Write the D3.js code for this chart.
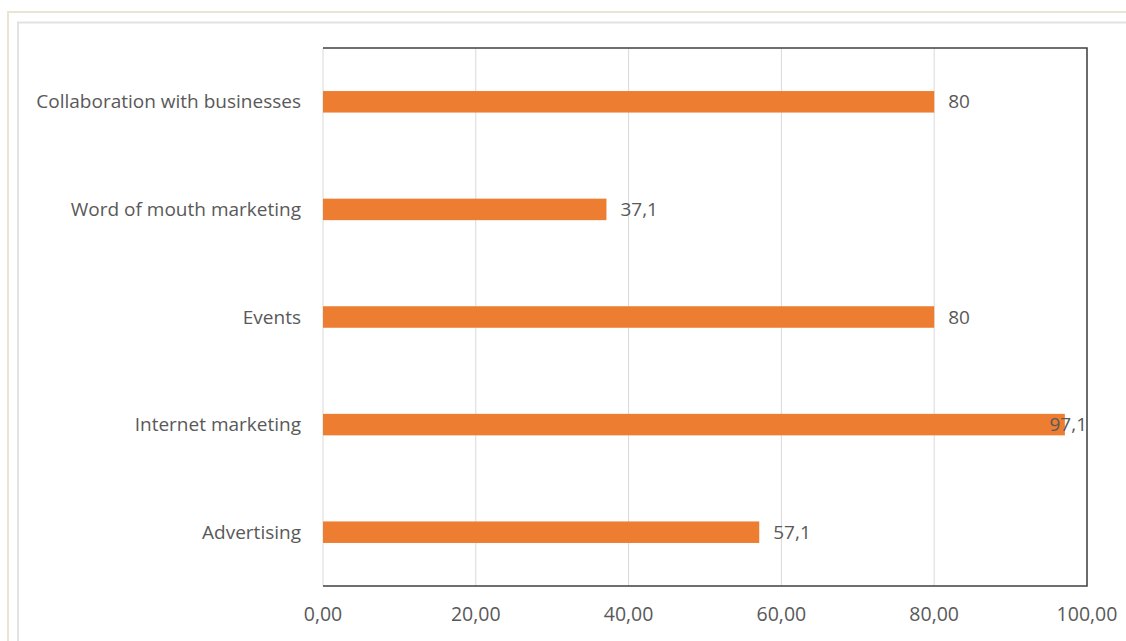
<!DOCTYPE html>
<html>
<head>
<meta charset="utf-8">
<script src="https://cdn.jsdelivr.net/npm/d3@7"></script>
<style>
  body { margin: 0; background: #fff; }
  svg text { font-family: "Open Sans", sans-serif; fill: #595959; }
</style>
</head>
<body>
<div id="graph"></div>
<script>
var categories = ['Collaboration with businesses', 'Word of mouth marketing', 'Events', 'Internet marketing', 'Advertising'];
var values = [80, 37.1, 80, 97.1, 57.1];
var tickValues = [0, 20, 40, 60, 80, 100];

var width = 1126, height = 641;
var plot = {left: 323, right: 1087, top: 48, bottom: 586};

var svg = d3.select('#graph')
            .append('svg')
            .attr('width', width)
            .attr('height', height);

// frames round the chart area
svg.append('path')
   .attr('d', 'M8,641 V12 H1126')
   .attr('fill', 'none')
   .attr('stroke', '#e9e5d3')
   .attr('stroke-width', 2);
svg.append('path')
   .attr('d', 'M18,641 V22.5 H1126')
   .attr('fill', 'none')
   .attr('stroke', '#e2e2e2')
   .attr('stroke-width', 2);

var x = d3.scaleLinear()
          .domain([0, 100])
          .range([plot.left, plot.right]);

var y = d3.scaleBand()
          .domain(categories)
          .range([plot.top, plot.bottom])
          .paddingInner(0.8)
          .paddingOuter(0.4);

var comma = function(v, f) { return d3.format(f)(v).replace('.', ','); };

// gridlines
svg.append('g')
   .selectAll('line')
   .data(tickValues)
   .enter()
   .append('line')
   .attr('x1', d => x(d)).attr('x2', d => x(d))
   .attr('y1', plot.top).attr('y2', plot.bottom)
   .attr('stroke', '#d9d9d9')
   .attr('stroke-width', 1);

// bars
svg.append('g')
   .selectAll('rect')
   .data(values)
   .enter()
   .append('rect')
   .attr('x', x(0))
   .attr('y', (d, i) => y(categories[i]))
   .attr('width', d => x(d) - x(0))
   .attr('height', y.bandwidth())
   .attr('fill', '#ed7d31');

// box: top, right, bottom dark
svg.append('path')
   .attr('d', 'M' + plot.left + ',' + plot.top + ' H' + plot.right + ' V' + plot.bottom + ' H' + plot.left)
   .attr('fill', 'none')
   .attr('stroke', '#404040')
   .attr('stroke-width', 1.5);

// x tick labels
svg.append('g')
   .selectAll('text')
   .data(tickValues)
   .enter()
   .append('text')
   .attr('x', d => x(d))
   .attr('y', 621)
   .attr('text-anchor', 'middle')
   .style('font-size', '19.5px')
   .text(d => comma(d, '.2f'));

// category labels
svg.append('g')
   .selectAll('text')
   .data(categories)
   .enter()
   .append('text')
   .attr('x', plot.left - 22)
   .attr('y', d => y(d) + y.bandwidth() / 2 + 6.5)
   .attr('text-anchor', 'end')
   .style('font-size', '19px')
   .text(d => d);

// value labels
svg.append('g')
   .selectAll('text')
   .data(values)
   .enter()
   .append('text')
   .attr('y', (d, i) => y(categories[i]) + y.bandwidth() / 2 + 6.5)
   .style('font-size', '19px')
   .text(d => comma(d, ''))
   .attr('x', function(d) {
     var w = this.getComputedTextLength();
     return Math.min(x(d) + 14, plot.right - w);
   });
</script>
</body>
</html>
